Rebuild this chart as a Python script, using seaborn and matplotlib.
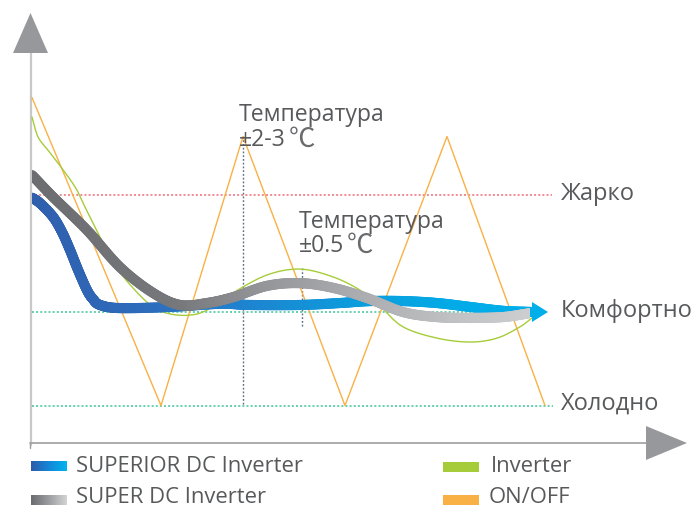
import numpy as np
import pandas as pd
import matplotlib
matplotlib.use("Agg")
import matplotlib.pyplot as plt
from matplotlib.collections import LineCollection
from matplotlib.colors import LinearSegmentedColormap
from matplotlib.patches import Polygon, Rectangle
import seaborn as sns

# ---- data: time (arbitrary units) vs. room temperature (°C) ----
superior_t = [0, 8, 21, 30, 38, 46, 55, 61, 68, 88, 138, 188, 218, 268, 308, 338, 371, 405, 438, 471, 500]
superior_temp = [26.93, 26.79, 26.44, 26.05, 25.59, 25.08, 24.56, 24.33, 24.18, 24.10, 24.13, 24.21,
                 24.18, 24.18, 24.23, 24.28, 24.28, 24.23, 24.13, 24.03, 24.00]

super_t = [0, 21, 55, 88, 121, 148, 175, 201, 235, 268, 301, 335, 371, 405, 438, 471, 498]
super_temp = [27.51, 26.95, 26.10, 25.15, 24.49, 24.18, 24.23, 24.38, 24.67, 24.74, 24.62, 24.36,
              24.00, 23.87, 23.85, 23.87, 23.97]

inverter_t = [0, 6, 16, 26, 43, 53, 68, 85, 103, 121, 138, 158, 175, 201, 235, 268, 301, 328, 348,
              371, 405, 438, 465, 488, 501]
inverter_temp = [29.0, 28.49, 28.15, 27.82, 27.21, 26.69, 25.92, 25.13, 24.56, 24.13, 23.95, 23.92,
                 24.05, 24.49, 24.95, 25.10, 24.90, 24.56, 24.15, 23.62, 23.33, 23.23, 23.33, 23.62, 23.87]

onoff_t = [0, 129, 211, 313, 415, 513]
onoff_temp = [29.5, 21.6, 28.5, 21.6, 28.5, 21.6]

HOT, COMFORT, COLD = 27.0, 24.0, 21.6
level_names = ["Жарко", "Комфортно", "Холодно"]
series_names = ["SUPERIOR DC Inverter", "SUPER DC Inverter", "Inverter", "ON/OFF"]
note_title = "Температура"
note_ranges = ["±2-3", "±0.5"]
DEG_C = "℃"

# ---- styling ----
sns.set_theme(style="white")
plt.rcParams["font.family"] = ["Open Sans", "DejaVu Sans"]
TEXT = "#58595b"
ORANGE = "#f9b146"
GREEN = "#a6cc3a"
RED_DOT = "#ef6b78"
TEAL_DOT = "#3cc29a"
VDOT = "#5d6e80"

W, H = 697, 509
fig = plt.figure(figsize=(W / 100, H / 100), dpi=100)
ax = fig.add_axes([0, 0, 1, 1])
# one time unit = 1 px, one degree = 39 px; time zero sits on the vertical axis
PX_T, PX_DEG, X0, Y0 = 1.0, 39.0, 32, 312
XLIM = (-X0 / PX_T, (W - X0) / PX_T)
YLIM = (COMFORT - (H - Y0) / PX_DEG, COMFORT + Y0 / PX_DEG)
ax.set_xlim(*XLIM)
ax.set_ylim(*YLIM)
ax.axis("off")


def P(px, py):
    """Layout helper: figure pixel position -> data coordinates."""
    return (px - X0) / PX_T, COMFORT + (Y0 - py) / PX_DEG


def smooth(x, y, n=20):
    p = np.column_stack([np.asarray(x, float), np.asarray(y, float)])
    p = np.vstack([2 * p[0] - p[1], p, 2 * p[-1] - p[-2]])
    s = np.linspace(0, 1, n, endpoint=False)[:, None]
    out = []
    for i in range(1, len(p) - 2):
        p0, p1, p2, p3 = p[i - 1], p[i], p[i + 1], p[i + 2]
        out.append(0.5 * (2 * p1 + (-p0 + p2) * s + (2 * p0 - 5 * p1 + 4 * p2 - p3) * s ** 2
                          + (-p0 + 3 * p1 - 3 * p2 + p3) * s ** 3))
    out.append(p[-2][None])
    return np.vstack(out)


def gradient_line(xs, ys, stops, lw, z):
    pts = smooth(xs, ys)
    tmax = xs[-1]
    cmap = LinearSegmentedColormap.from_list("grad", [(t / tmax, c) for t, c in stops])
    segs = np.stack([pts[:-1], pts[1:]], axis=1)
    mid = (pts[:-1, 0] + pts[1:, 0]) / 2
    lc = LineCollection(segs, colors=cmap(np.clip(mid / tmax, 0, 1)), linewidths=lw,
                        capstyle="round", joinstyle="round", zorder=z)
    ax.add_collection(lc)
    clip = Rectangle((xs[0], YLIM[0]), xs[-1] - xs[0], YLIM[1] - YLIM[0],
                     transform=ax.transData, visible=False)
    ax.add_patch(clip)
    lc.set_clip_path(clip)


# ---- reference levels ----
dot = (0, (1.3, 1.4))
ax.plot([3, 520], [HOT, HOT], color=RED_DOT, lw=1.1, ls=dot, zorder=1)
ax.plot([0, 515], [COMFORT, COMFORT], color=TEAL_DOT, lw=1.1, ls=dot, zorder=1)
ax.plot([0, 521], [COLD, COLD], color=TEAL_DOT, lw=1.1, ls=dot, zorder=1)
ax.plot([onoff_t[2]] * 2, [onoff_temp[2], COLD], color=VDOT, lw=1.0, ls=dot, zorder=1)
ax.plot([270, 270], [max(super_temp[8:]) + 0.4, min(super_temp[8:]) - 0.25], color=VDOT, lw=1.0,
        ls=dot, zorder=1)

# ---- thin series ----
inv_s = smooth(inverter_t, inverter_temp)
thin = pd.concat([
    pd.DataFrame({"t": onoff_t, "temp": onoff_temp, "series": series_names[3]}),
    pd.DataFrame({"t": inv_s[:, 0], "temp": inv_s[:, 1], "series": series_names[2]}),
], ignore_index=True)
sns.lineplot(data=thin, x="t", y="temp", hue="series", sort=False, estimator=None,
             palette={series_names[3]: ORANGE, series_names[2]: GREEN}, linewidth=1.0,
             legend=False, ax=ax, zorder=2)

# ---- thick gradient series ----
blue_stops = [(0, "#2f5fad"), (120, "#2e6cbc"), (210, "#1f82cf"), (330, "#0c9ddc"),
              (430, "#02abe7"), (500, "#00aeea")]
gray_stops = [(0, "#6c6d70"), (150, "#77787b"), (230, "#939497"), (330, "#abacaf"),
              (430, "#c1c2c4"), (498, "#cccdcf")]
gradient_line(superior_t, superior_temp, blue_stops, 7.3, 3)
gradient_line(super_t, super_temp, gray_stops, 7.3, 4)
tip_t, tip_T = superior_t[-1] + 16, superior_temp[-1]
half = 10 / PX_DEG
ax.add_patch(Polygon([(superior_t[-1], tip_T - half), (superior_t[-1], tip_T + half), (tip_t, tip_T)],
                     closed=True, color="#00aeea", lw=0, zorder=5))

# ---- axes with arrowheads ----
ax.plot(*zip(P(31, 50), P(31, 445)), color="#c8c8c8", lw=1.6, zorder=0, clip_on=False)
ax.add_patch(Polygon([P(13, 53), P(48, 53), P(30.5, 13)], closed=True, color="#97989b", lw=0))
ax.plot(*zip(P(30, 443), P(648, 443)), color="#9e9e9e", lw=1.2, zorder=0)
ax.plot(*zip(P(30, 443), P(30, 448)), color="#9e9e9e", lw=1.0, zorder=0)
ax.add_patch(Polygon([P(646, 426), P(646, 460), P(687, 443)], closed=True, color="#97989b", lw=0))

# ---- level labels and notes ----
for name, lvl, base in zip(level_names, [HOT, COMFORT, COLD], [200, 317, 410]):
    ax.text(*P(561, base), name, fontsize=17, color=TEXT, va="baseline", ha="left")

renderer = fig.canvas.get_renderer()
for (nx, b1, b2), rng in zip([(239, 121, 146), (299, 228, 252)], note_ranges):
    ax.text(*P(nx, b1), note_title, fontsize=16.6, color=TEXT, va="baseline", ha="left")
    t = ax.text(*P(nx, b2), rng, fontsize=16.6, color=TEXT, va="baseline", ha="left")
    right_px = t.get_window_extent(renderer).x1
    ax.text(*P(right_px + 3, b2 + 1), DEG_C, fontsize=19, color="#6a6b6d", va="baseline",
            ha="left", family=["Noto Sans CJK SC", "DejaVu Sans"], fontweight="light")

# ---- legend ----
grad = np.linspace(0, 1, 256)[None, :]
swatches = [
    (LinearSegmentedColormap.from_list("b", ["#2f5aa8", "#1487d6", "#00b4ef"]), 31, 461, 76, 472),
    (LinearSegmentedColormap.from_list("g", ["#6a6b6e", "#9c9da0", "#d4d4d6"]), 31, 495, 76, 503),
    (LinearSegmentedColormap.from_list("i", [GREEN, GREEN]), 443, 462, 491, 472),
    (LinearSegmentedColormap.from_list("o", [ORANGE, ORANGE]), 443, 495, 489, 503),
]
for (cm, sx, sy, tx, tb), name in zip(swatches, series_names):
    x0, y1 = P(sx, sy)
    x1, y0 = P(sx + 36, sy + 10)
    ax.imshow(grad, cmap=cm, extent=[x0, x1, y0, y1], aspect="auto", zorder=3)
    ax.text(*P(tx, tb), name, fontsize=15.8, color=TEXT, va="baseline", ha="left")

ax.set_xlim(*XLIM)
ax.set_ylim(*YLIM)
fig.savefig("out.png", dpi=100)
